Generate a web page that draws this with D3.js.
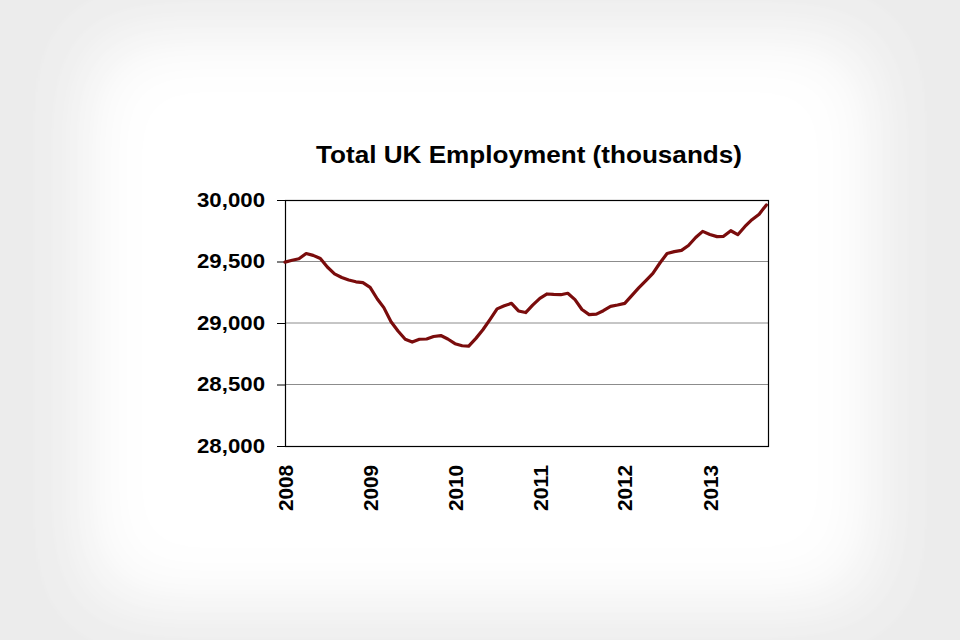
<!DOCTYPE html>
<html>
<head>
<meta charset="utf-8">
<script src="https://cdn.jsdelivr.net/npm/d3@7"></script>
<style>
  body { margin: 0; background: #ececec; }
  svg { display: block; }
  text { font-family: "Liberation Sans", Arial, sans-serif; font-weight: bold; fill: #000; }
</style>
</head>
<body>
<div id="chart"></div>
<script>
var w = 960;
var h = 640;

// monthly figures, Jan 2008 .. Sep 2013 (thousands)
var startYear = 2008;
var employment = [
  29495, 29510, 29522, 29565, 29550, 29525, 29455, 29400, 29370, 29350, 29335, 29328,
  29290, 29195, 29125, 29010, 28935, 28868, 28845, 28868, 28870, 28890, 28898, 28870,
  28832, 28815, 28812, 28875, 28945, 29030, 29115, 29140, 29160, 29098, 29085, 29145,
  29200, 29236, 29232, 29230, 29242, 29190, 29110, 29068, 29072, 29100, 29135, 29146,
  29160, 29225, 29285, 29345, 29404, 29490, 29565, 29580, 29590, 29630, 29695, 29745,
  29720, 29702, 29705, 29750, 29718, 29785, 29840, 29885, 29960
];
var yearTicks = [2008, 2009, 2010, 2011, 2012, 2013];
var yTicks = [28000, 28500, 29000, 29500, 30000];
var title = "Total UK Employment (thousands)";

var data = employment.map(function(v, i) {
  return { date: new Date(startYear, i, 1), value: v };
});

var plot = { left: 285, right: 768, top: 200, bottom: 446 };

var x = d3.scaleTime()
  .domain([new Date(startYear, 0, 1), new Date(2013, 8, 8)])
  .range([plot.left, plot.right]);
var y = d3.scaleLinear()
  .domain([28000, 30000])
  .range([plot.bottom, plot.top]);

var svg = d3.select("#chart").append("svg")
  .attr("width", w)
  .attr("height", h);

// soft vignette background
var defs = svg.append("defs");
defs.append("filter")
    .attr("id", "blur")
    .attr("x", "-50%").attr("y", "-50%")
    .attr("width", "200%").attr("height", "200%")
  .append("feGaussianBlur")
    .attr("stdDeviation", 40);

svg.append("rect")
  .attr("width", w).attr("height", h)
  .attr("fill", "#ececec");
svg.append("rect")
  .attr("x", 105).attr("y", 55)
  .attr("width", 750).attr("height", 530)
  .attr("fill", "#fff")
  .attr("filter", "url(#blur)");
svg.append("rect")
  .attr("x", 105).attr("y", 55)
  .attr("width", 750).attr("height", 530)
  .attr("fill", "#fff")
  .attr("filter", "url(#blur)");

// title
svg.append("text")
  .attr("x", 529)
  .attr("y", 163)
  .attr("text-anchor", "middle")
  .attr("font-size", 24)
  .attr("textLength", 426)
  .attr("lengthAdjust", "spacingAndGlyphs")
  .text(title);

// gridlines
svg.append("g")
  .selectAll("line")
  .data(yTicks.filter(function(d) { return d > 28000 && d < 30000; }))
  .enter().append("line")
    .attr("x1", plot.left)
    .attr("x2", plot.right)
    .attr("y1", function(d) { return y(d); })
    .attr("y2", function(d) { return y(d); })
    .attr("stroke", "#8c8c8c")
    .attr("stroke-width", 1);

// y axis
var yAxis = svg.append("g")
  .attr("transform", "translate(" + plot.left + ",0)")
  .call(d3.axisLeft(y)
    .tickValues(yTicks)
    .tickSize(8)
    .tickPadding(12)
    .tickFormat(d3.format(",")));
yAxis.select(".domain").remove();
yAxis.selectAll("line").attr("stroke", "#000");
yAxis.selectAll("text")
  .attr("font-size", 20)
  .attr("font-family", "Liberation Sans, Arial, sans-serif")
  .attr("textLength", 68)
  .attr("lengthAdjust", "spacingAndGlyphs");

// x axis, rotated year labels
var xAxis = svg.append("g")
  .attr("transform", "translate(0," + plot.bottom + ")")
  .call(d3.axisBottom(x)
    .tickValues(yearTicks.map(function(yr) { return new Date(yr, 0, 1); }))
    .tickSize(0)
    .tickFormat(d3.timeFormat("%Y")));
xAxis.select(".domain").remove();
xAxis.selectAll("text")
  .attr("font-size", 20)
  .attr("font-family", "Liberation Sans, Arial, sans-serif")
  .attr("transform", "rotate(-90)")
  .attr("x", -19)
  .attr("y", 0)
  .attr("dy", "0.36em")
  .attr("text-anchor", "end")
  .attr("textLength", 46)
  .attr("lengthAdjust", "spacingAndGlyphs");

// frame
svg.append("rect")
  .attr("x", plot.left + 0.5)
  .attr("y", plot.top + 0.5)
  .attr("width", plot.right - plot.left)
  .attr("height", plot.bottom - plot.top)
  .attr("fill", "none")
  .attr("stroke", "#000")
  .attr("stroke-width", 1.2);

// the series
var line = d3.line()
  .x(function(d) { return x(d.date); })
  .y(function(d) { return y(d.value); });

svg.append("path")
  .datum(data)
  .attr("d", line)
  .attr("fill", "none")
  .attr("stroke", "#7a0c0c")
  .attr("stroke-width", 3.2)
  .attr("stroke-linejoin", "round")
  .attr("stroke-linecap", "round");
</script>
</body>
</html>
